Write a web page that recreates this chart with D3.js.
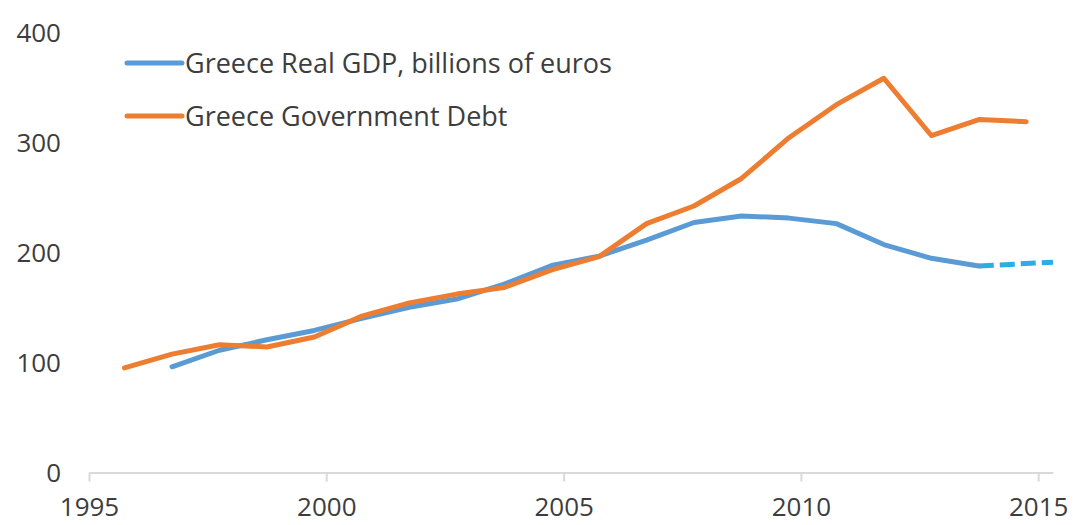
<!DOCTYPE html>
<html>
<head>
<meta charset="utf-8">
<script src="https://cdn.jsdelivr.net/npm/d3@7"></script>
<style>
  html, body { margin: 0; padding: 0; background: #fff; }
  svg { display: block; }
  text { font-family: "Open Sans", Lato, sans-serif; fill: #3d3d3d; }
</style>
</head>
<body>
<svg id="chart" width="1073" height="525"></svg>
<script>
// ---- data ----
const debtDates = ["1995-10-01","1996-10-01","1997-10-01","1998-10-01","1999-10-01",
  "2000-10-01","2001-10-01","2002-10-01","2003-10-01","2004-10-01","2005-10-01",
  "2006-10-01","2007-10-01","2008-10-01","2009-10-01","2010-10-01","2011-10-01",
  "2012-10-01","2013-10-01","2014-10-01"];
const debtValues = [95, 107.5, 116, 114, 123, 142, 154, 162, 168, 184, 196,
  226, 242, 267, 304, 334, 358, 306, 320.5, 318.5];

const gdpDates = ["1996-10-01","1997-10-01","1998-10-01","1999-10-01","2000-10-01",
  "2001-10-01","2002-10-01","2003-10-01","2004-10-01","2005-10-01","2006-10-01",
  "2007-10-01","2008-10-01","2009-10-01","2010-10-01","2011-10-01","2012-10-01",
  "2013-10-01"];
const gdpValues = [96, 111, 120.5, 129, 140, 150, 157.5, 171, 188, 196.5, 211,
  227, 233, 231, 226, 207, 194.5, 187.5];

const gdpProjDates = ["2013-10-01", "2015-04-25"];
const gdpProjValues = [187.5, 191];

const xTickYears = [1995, 2000, 2005, 2010, 2015];
const yTicks = [0, 100, 200, 300, 400];

const seriesNames = ["Greece Real GDP, billions of euros", "Greece Government Debt"];
const seriesColors = ["#5b9bd5", "#ed7d31"];
const projColor = "#2aaee6";

// ---- chart ----
const svg = d3.select("#chart");
const parse = d3.timeParse("%Y-%m-%d");
const FONT = "'Open Sans', Lato, sans-serif";
const TXT = "#3d3d3d";

const x = d3.scaleTime()
  .domain([new Date(1995, 0, 1), new Date(2015, 3, 25)])
  .range([89, 1053]);
const y = d3.scaleLinear().domain([0, 400]).range([472.5, 32]);

// x axis
const xAxis = d3.axisBottom(x)
  .tickValues(xTickYears.map(yr => new Date(yr, 0, 1)))
  .tickFormat(d3.timeFormat("%Y"))
  .tickSizeInner(9).tickSizeOuter(0).tickPadding(16);
const gx = svg.append("g").attr("transform", `translate(0,${y(0)})`).call(xAxis);
gx.select(".domain").attr("stroke", "#d9d9d9").attr("stroke-width", 2);
gx.selectAll(".tick line").attr("stroke", "#d9d9d9").attr("stroke-width", 2);
gx.selectAll(".tick text").attr("font-size", 26).attr("fill", TXT)
  .attr("font-family", FONT);

// y axis (labels only)
const yAxis = d3.axisLeft(y).tickValues(yTicks).tickSize(0).tickPadding(0);
const gy = svg.append("g").attr("transform", "translate(61,0)").call(yAxis);
gy.select(".domain").remove();
gy.selectAll(".tick text").attr("font-size", 26).attr("fill", TXT)
  .attr("font-family", FONT).attr("dy", "0.36em");

const line = d3.line()
  .x(d => x(parse(d[0])))
  .y(d => y(d[1]));

const gdpData = gdpDates.map((d, i) => [d, gdpValues[i]]);
const projData = gdpProjDates.map((d, i) => [d, gdpProjValues[i]]);
const debtData = debtDates.map((d, i) => [d, debtValues[i]]);

svg.append("path").datum(projData).attr("d", line)
  .attr("fill", "none").attr("stroke", projColor).attr("stroke-width", 5)
  .attr("stroke-dasharray", "15,6");

svg.append("path").datum(gdpData).attr("d", line)
  .attr("fill", "none").attr("stroke", seriesColors[0]).attr("stroke-width", 5)
  .attr("stroke-linejoin", "round").attr("stroke-linecap", "round");

svg.append("path").datum(debtData).attr("d", line)
  .attr("fill", "none").attr("stroke", seriesColors[1]).attr("stroke-width", 5)
  .attr("stroke-linejoin", "round").attr("stroke-linecap", "round");

// legend
const legend = svg.append("g");
const legY = [63, 116];
seriesNames.forEach((name, i) => {
  legend.append("line").attr("x1", 127).attr("x2", 182)
    .attr("y1", legY[i]).attr("y2", legY[i])
    .attr("stroke", seriesColors[i]).attr("stroke-width", 5)
    .attr("stroke-linecap", "round");
  legend.append("text").attr("x", 185).attr("y", legY[i] + 10)
    .attr("font-size", 27).attr("fill", TXT).attr("font-family", FONT).text(name);
});
</script>
</body>
</html>
